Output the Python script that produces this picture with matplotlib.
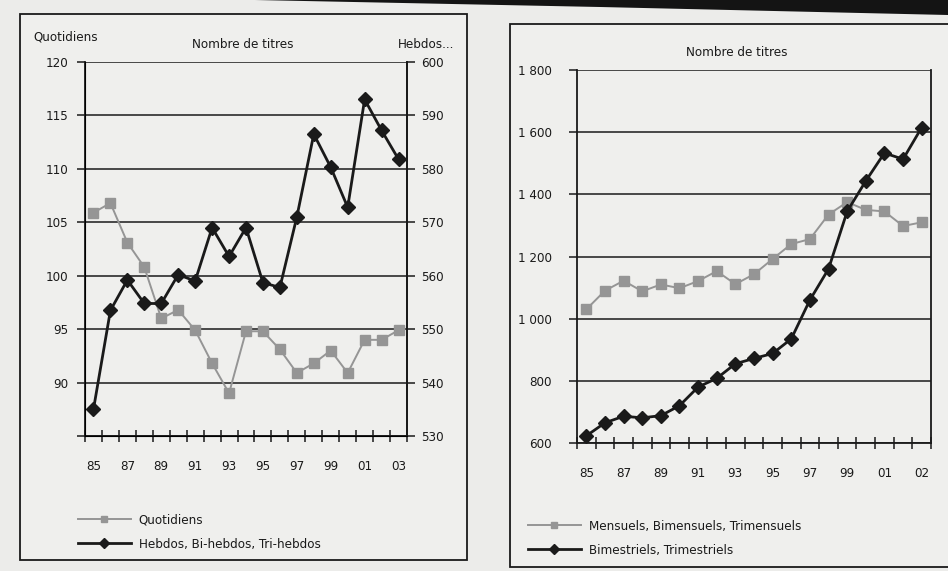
import matplotlib
matplotlib.use("Agg")
import matplotlib.pyplot as plt
from matplotlib.patches import Rectangle, Polygon
import numpy as np

plt.rcParams['font.family'] = ['DejaVu Sans']
plt.rcParams['font.stretch'] = 'condensed'

# ---------------- data ----------------
years_left = ["85", "86", "87", "88", "89", "90", "91", "92", "93", "94",
              "95", "96", "97", "98", "99", "00", "01", "02", "03"]
quotidiens = [105.9, 106.8, 103.1, 100.8, 96.0, 96.8, 94.9, 91.8, 89.0, 94.8,
              94.8, 93.1, 90.9, 91.8, 93.0, 90.9, 94.0, 94.0, 94.9]
hebdos = [535.0, 553.5, 559.2, 554.8, 554.8, 560.2, 559.0, 569.0, 563.6, 569.0,
          558.7, 557.8, 571.0, 586.5, 580.3, 572.8, 593.0, 587.2, 581.8]

left_tick_labels = ["85", "87", "89", "91", "93", "95", "97", "99", "01", "03"]
left_label_pos = [0, 2, 4, 6, 8, 10, 12, 14, 16, 18]
left_y_ticks = [85, 90, 95, 100, 105, 110, 115, 120]
left_y_labels = ["", "90", "95", "100", "105", "110", "115", "120"]
right_y_ticks = [530, 540, 550, 560, 570, 580, 590, 600]

years_right = ["85", "86", "87", "88", "89", "90", "91", "92", "93", "94",
               "95", "96", "97", "98", "99", "00", "01", "02", "03"]
mensuels = [1030, 1090, 1122, 1088, 1110, 1098, 1121, 1153, 1111, 1143,
            1192, 1240, 1256, 1335, 1375, 1350, 1345, 1298, 1310]
bimestriels = [623, 665, 686, 681, 688, 720, 780, 808, 855, 872,
               888, 935, 1060, 1160, 1345, 1443, 1533, 1513, 1615]
right_tick_labels = ["85", "87", "89", "91", "93", "95", "97", "99", "01", "02"]
right_label_pos = [0, 2, 4, 6, 8, 10, 12, 14, 16, 18]
r_y_ticks = [600, 800, 1000, 1200, 1400, 1600, 1800]
r_y_labels = ["600", "800", "1 000", "1 200", "1 400", "1 600", "1 800"]

# ---------------- figure ----------------
W, H = 948, 571
BG = "#ececea"
PANEL = "#efefed"
GREY = "#959595"
INK = "#1a1a1a"
fig = plt.figure(figsize=(W / 100, H / 100), dpi=100, facecolor=BG)


def fx(px):
    return px / W


def fy(py):
    return 1 - py / H


# dark header band at the top
fig.patches.append(Polygon([[fx(255), fy(0)], [fx(948), fy(0)], [fx(948), fy(15)],
                            [fx(600), fy(7)]], closed=True, transform=fig.transFigure,
                           facecolor="#141414", edgecolor="none", zorder=-5))

# panel frames
fig.patches.append(Rectangle((fx(20), fy(560)), fx(467) - fx(20), fy(14) - fy(560),
                             transform=fig.transFigure, facecolor=PANEL,
                             edgecolor=INK, linewidth=1.3, zorder=-5))
fig.patches.append(Rectangle((fx(510), fy(567)), fx(960) - fx(510), fy(24) - fy(567),
                             transform=fig.transFigure, facecolor=PANEL,
                             edgecolor=INK, linewidth=1.3, zorder=-5))

FS = 9.5


def style_axes(ax, n):
    ax.set_facecolor("none")
    ax.set_xlim(-0.5, n - 0.5)
    ax.spines['top'].set_visible(False)
    for s in ['left', 'right', 'bottom']:
        ax.spines[s].set_color(INK)
        ax.spines[s].set_linewidth(1.3)
    ax.set_xticks(np.arange(-0.5, n, 1.0))
    ax.set_xticklabels([])
    ax.tick_params(axis='x', direction='inout', length=8, width=1.1, color=INK)
    ax.yaxis.grid(True, color=INK, linewidth=1.1)
    ax.set_axisbelow(True)


# ---------------- left panel ----------------
axL = fig.add_axes([fx(85), fy(436), fx(407) - fx(85), fy(62) - fy(436)])
n = len(years_left)
xl = np.arange(n)
style_axes(axL, n)
axL.set_ylim(85, 120)
axL.set_yticks(left_y_ticks)
axL.set_yticklabels(left_y_labels, fontsize=FS, color=INK)
axL.tick_params(axis='y', direction='out', length=6, width=1.1, color=INK, pad=6)
for lp, lab in zip(left_label_pos, left_tick_labels):
    axL.text(lp, -0.065, lab, transform=axL.get_xaxis_transform(), ha='center',
             va='top', fontsize=FS, color=INK)

axL2 = axL.twinx()
axL2.set_ylim(530, 600)
axL2.set_yticks(right_y_ticks)
axL2.set_yticklabels([str(v) for v in right_y_ticks], fontsize=FS, color=INK)
axL2.tick_params(axis='y', direction='out', length=6, width=1.1, color=INK, pad=4)
axL2.spines['top'].set_visible(False)
axL2.spines['right'].set_color(INK)
axL2.spines['right'].set_linewidth(1.3)

lq, = axL.plot(xl, quotidiens, color=GREY, linewidth=1.4, marker='s',
               markersize=6.5, markerfacecolor=GREY, markeredgecolor=GREY,
               label="Quotidiens", zorder=3)
lh, = axL2.plot(xl, hebdos, color=INK, linewidth=2.0, marker='D',
                markersize=7.5, markerfacecolor=INK, markeredgecolor=INK,
                label="Hebdos, Bi-hebdos, Tri-hebdos", zorder=4)

fig.text(fx(33), fy(37), "Quotidiens", fontsize=FS, color=INK, ha='left', va='center')
fig.text(fx(243), fy(45), "Nombre de titres", fontsize=FS, color=INK, ha='center', va='center')
fig.text(fx(398), fy(45), "Hebdos...", fontsize=FS, color=INK, ha='left', va='center')

legL = fig.legend(handles=[lq, lh], loc='upper left',
                  bbox_to_anchor=(fx(66), fy(502)), frameon=False,
                  fontsize=FS, handlelength=4.0, labelspacing=0.85,
                  handletextpad=0.6, markerscale=0.7)
for t in legL.get_texts():
    t.set_color(INK)

# ---------------- right panel ----------------
axR = fig.add_axes([fx(577), fy(443), fx(931) - fx(577), fy(70) - fy(443)])
m = len(years_right)
xr = np.arange(m)
style_axes(axR, m)
axR.set_ylim(600, 1800)
axR.set_yticks(r_y_ticks)
axR.set_yticklabels(r_y_labels, fontsize=FS, color=INK)
axR.tick_params(axis='y', direction='out', length=6, width=1.1, color=INK, pad=12)
for lp, lab in zip(right_label_pos, right_tick_labels):
    axR.text(lp, -0.065, lab, transform=axR.get_xaxis_transform(), ha='center',
             va='top', fontsize=FS, color=INK)

lm, = axR.plot(xr, mensuels, color=GREY, linewidth=1.4, marker='s',
               markersize=6.5, markerfacecolor=GREY, markeredgecolor=GREY,
               label="Mensuels, Bimensuels, Trimensuels", zorder=3)
lb, = axR.plot(xr, bimestriels, color=INK, linewidth=2.0, marker='D',
               markersize=7.5, markerfacecolor=INK, markeredgecolor=INK,
               label="Bimestriels, Trimestriels", zorder=4)

fig.text(fx(737), fy(52), "Nombre de titres", fontsize=FS, color=INK, ha='center', va='center')

legR = fig.legend(handles=[lm, lb], loc='upper left',
                  bbox_to_anchor=(fx(516), fy(508)), frameon=False,
                  fontsize=FS, handlelength=4.0, labelspacing=0.85,
                  handletextpad=0.6, markerscale=0.7)
for t in legR.get_texts():
    t.set_color(INK)

fig.savefig("out.png", dpi=100, facecolor=BG)
